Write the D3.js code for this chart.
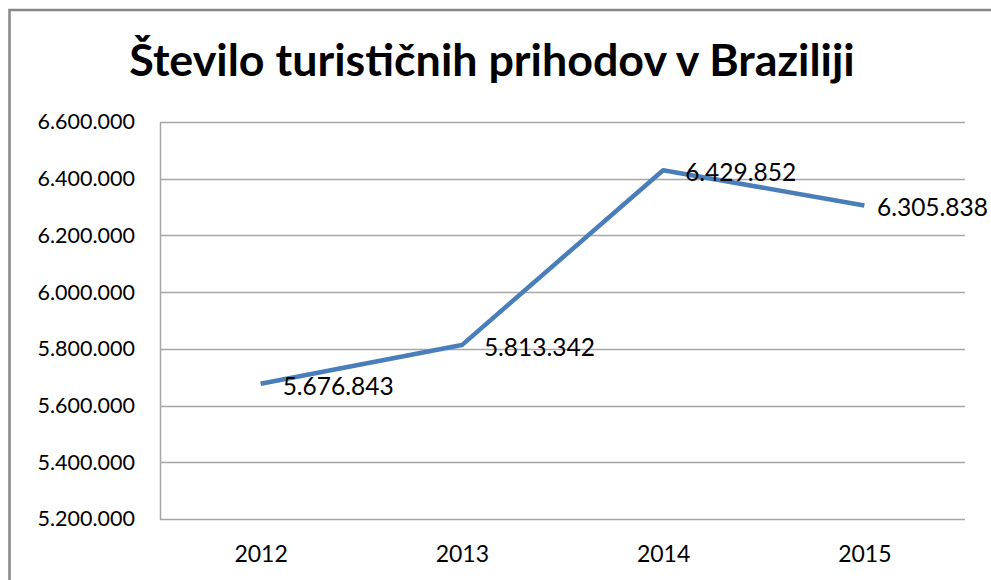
<!DOCTYPE html>
<html>
<head>
<meta charset="utf-8">
<script src="https://cdn.jsdelivr.net/npm/d3@7"></script>
<style>
  body { margin: 0; background: #fff; }
  svg { display: block; }
  text { font-family: Lato, "Open Sans", sans-serif; fill: #000; }
</style>
</head>
<body>
<div id="chart"></div>
<script>
const years = ["2012", "2013", "2014", "2015"];
const arrivals = [5676843, 5813342, 6429852, 6305838];
const yTicks = [5200000, 5400000, 5600000, 5800000, 6000000, 6200000, 6400000, 6600000];
const chartTitle = "Število turističnih prihodov v Braziliji";

const width = 991, height = 580;
const margin = { top: 122, right: 26, bottom: 61, left: 160 };

const svg = d3.select("#chart").append("svg")
    .attr("width", width)
    .attr("height", height);

// outer chart frame, runs off the right and bottom edges
svg.append("rect")
    .attr("x", 9.5).attr("y", 10)
    .attr("width", 1000).attr("height", 600)
    .attr("fill", "#fff")
    .attr("stroke", "#878787")
    .attr("stroke-width", 2.5);

const locale = d3.formatLocale({ decimal: ",", thousands: ".", grouping: [3], currency: ["", ""] });
const fmt = locale.format(",d");

const x = d3.scalePoint()
    .domain(years)
    .range([margin.left, width - margin.right])
    .padding(0.5);

const y = d3.scaleLinear()
    .domain([d3.min(yTicks), d3.max(yTicks)])
    .range([height - margin.bottom, margin.top]);

// gridlines
svg.append("g")
    .selectAll("line")
    .data(yTicks)
    .join("line")
    .attr("x1", margin.left)
    .attr("x2", width - margin.right)
    .attr("y1", d => Math.round(y(d)) + 0.5)
    .attr("y2", d => Math.round(y(d)) + 0.5)
    .attr("stroke", "#a6a6a6")
    .attr("stroke-width", 1.5);

function yAxis(g) {
    g.attr("transform", `translate(${margin.left}, 0)`)
        .call(d3.axisLeft(y).tickValues(yTicks).tickFormat(fmt).tickSize(0).tickPadding(25));
    g.select(".domain").attr("stroke", "#a6a6a6").attr("stroke-width", 1.5);
    g.selectAll("text")
        .attr("font-family", "Lato")
        .attr("font-size", 21.5)
        .attr("fill", "#000");
}

function xAxis(g) {
    g.attr("transform", `translate(0, ${height - margin.bottom})`)
        .call(d3.axisBottom(x).tickSize(0).tickPadding(27));
    g.select(".domain").remove();
    g.selectAll("text")
        .attr("font-family", "Lato")
        .attr("font-size", 23)
        .attr("fill", "#000");
}

svg.append("g").call(yAxis);
svg.append("g").call(xAxis);

const points = years.map((yr, i) => ({ year: yr, value: arrivals[i] }));

svg.append("path")
    .datum(points)
    .attr("fill", "none")
    .attr("stroke", "#4a7ebb")
    .attr("stroke-width", 4.5)
    .attr("stroke-linejoin", "round")
    .attr("d", d3.line()
        .x(d => x(d.year))
        .y(d => y(d.value)));

// data labels to the right of each point, kept inside the frame
svg.append("g")
    .selectAll("text")
    .data(points)
    .join("text")
    .attr("font-size", 24.5)
    .attr("dy", "0.36em")
    .attr("y", d => y(d.value) + 2)
    .text(d => fmt(d.value))
    .attr("x", function (d) {
        const w = this.getComputedTextLength();
        return Math.min(x(d.year) + 22, 988 - w);
    });

svg.append("text")
    .attr("x", 492)
    .attr("y", 76)
    .attr("text-anchor", "middle")
    .attr("font-size", 44.8)
    .attr("font-weight", "bold")
    .text(chartTitle);
</script>
</body>
</html>
